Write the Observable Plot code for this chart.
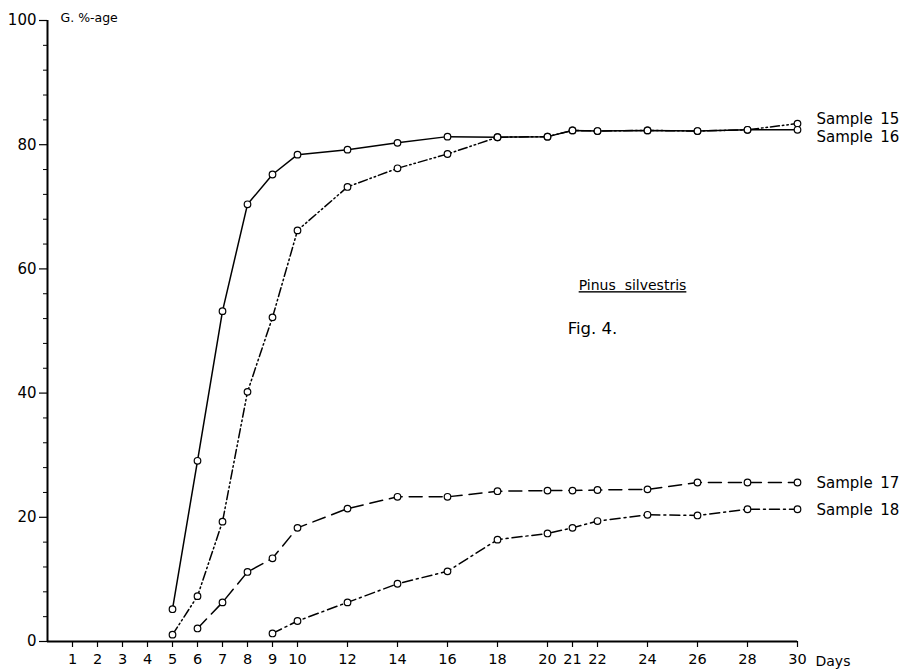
<!DOCTYPE html>
<html>
<head>
<meta charset="utf-8">
<script src="https://cdn.jsdelivr.net/npm/d3@7"></script>
<script src="https://cdn.jsdelivr.net/npm/@observablehq/plot@0.6"></script>
<style>
  html, body { margin: 0; padding: 0; background: #fff; }
  #chart svg { display: block; }
</style>
</head>
<body>
<div id="chart"></div>
<script>
// ---- data ----
const days15 = [5,6,7,8,9,10,12,14,16,18,20,21,22,24,26,28,30];
const sample15 = [1.1,7.3,19.3,40.2,52.2,66.2,73.2,76.2,78.5,81.2,81.3,82.3,82.2,82.3,82.2,82.4,83.4];
const days16 = [5,6,7,8,9,10,12,14,16,18,20,21,22,24,26,28,30];
const sample16 = [5.2,29.1,53.2,70.4,75.2,78.4,79.2,80.3,81.3,81.2,81.3,82.3,82.2,82.3,82.2,82.4,82.4];
const days17 = [6,7,8,9,10,12,14,16,18,20,21,22,24,26,28,30];
const sample17 = [2.1,6.3,11.2,13.4,18.3,21.4,23.3,23.3,24.2,24.3,24.3,24.4,24.5,25.6,25.6,25.6];
const days18 = [9,10,12,14,16,18,20,21,22,24,26,28,30];
const sample18 = [1.3,3.3,6.3,9.3,11.3,16.4,17.4,18.3,19.4,20.4,20.3,21.3,21.3];

const seriesNames = ["Sample 15","Sample 16","Sample 17","Sample 18"];
const xTicks = [1,2,3,4,5,6,7,8,9,10,12,14,16,18,20,21,22,24,26,28,30];
const yMajorTicks = [0,20,40,60,80,100];
const yMinorTicks = [4,8,12,16,24,28,32,36,44,48,52,56,64,68,72,76,84,88,92,96];
const yLabel = "G. %-age";
const xLabel = "Days";
const titleText = "Pinus  silvestris";
const figText = "Fig. 4.";

// ---- build tables ----
const allDays = [days15, days16, days17, days18];
const allVals = [sample15, sample16, sample17, sample18];
const series = seriesNames.map((name, i) =>
  allDays[i].map((d, j) => ({series: name, day: d, value: allVals[i][j]})));
const dashes = ["9,3,1.5,3,1.5,3", null, "13,7", "10,4,2,4"];
const labelDy = [-4, 7, 1, 1];
const ends = series.map(s => s[s.length - 1]);

const font = "DejaVu Sans, sans-serif";

const marks = [];
series.forEach((s, i) => {
  marks.push(Plot.line(s, {x: "day", y: "value", stroke: "black", strokeWidth: 1.5,
    strokeDasharray: dashes[i] || undefined}));
});
// axis lines
marks.push(Plot.ruleX([0], {y1: 0, y2: 100, stroke: "black", strokeWidth: 2}));
marks.push(Plot.ruleY([0], {x1: 0, x2: 30, stroke: "black", strokeWidth: 2}));
series.forEach(s => {
  marks.push(Plot.dot(s, {x: "day", y: "value", r: 3.3, fill: "white", stroke: "black", strokeWidth: 1.2}));
});
ends.forEach((e, i) => {
  marks.push(Plot.text([e], {x: "day", y: "value", text: d => d.series.replace(" ", "\u2002"),
    textAnchor: "start", dx: 19, dy: labelDy[i], fontSize: 15, fill: "black"}));
});
marks.push(Plot.axisX({ticks: xTicks, tickSize: 6, tickPadding: 6, fontSize: 14.5, label: null,
  stroke: "black", strokeWidth: 1.2}));
marks.push(Plot.axisY({ticks: yMinorTicks, tickSize: 4, tickFormat: () => "", label: null, stroke: "black"}));
marks.push(Plot.axisY({ticks: yMajorTicks, tickSize: 8, tickPadding: 3, fontSize: 15, label: null,
  stroke: "black", strokeWidth: 1.2}));
marks.push(Plot.text([yLabel], {x: 0, y: 100, text: d => d, textAnchor: "start", dx: 13, dy: -3, fontSize: 12.5}));
marks.push(Plot.text([xLabel], {x: 30, y: 0, text: d => d, textAnchor: "start", dx: 18, dy: 20, fontSize: 14}));
marks.push(Plot.text([titleText], {x: 23.4, y: 57.3, text: d => d, textAnchor: "middle", fontSize: 14}));
marks.push(Plot.text([figText], {x: 21.8, y: 50.4, text: d => d, textAnchor: "middle", fontSize: 16.5}));

const chart = Plot.plot({
  width: 914,
  height: 671,
  marginLeft: 47,
  marginRight: 117,
  marginTop: 20,
  marginBottom: 30,
  style: {fontFamily: font, color: "black", background: "white"},
  x: {domain: [0, 30]},
  y: {domain: [0, 100]},
  marks
});
document.getElementById("chart").appendChild(chart);

// underline the species name and keep the double spacing
d3.select(chart).selectAll("text").filter(function() { return this.textContent === titleText; })
  .style("text-decoration", "underline").style("white-space", "pre");
</script>
</body>
</html>
